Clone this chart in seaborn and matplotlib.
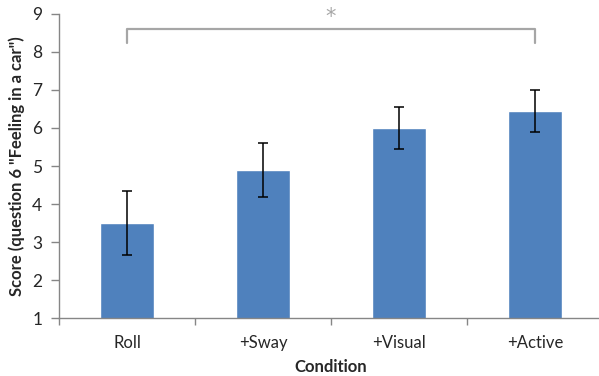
import numpy as np
import matplotlib
matplotlib.use("Agg")
from matplotlib import pyplot as plt
import seaborn as sns

# --- DATA ---
conditions = ["Roll", "+Sway", "+Visual", "+Active"]
scores = [3.5, 4.9, 6.0, 6.45]
errors = [0.83, 0.71, 0.56, 0.55]
y_ticks = [1, 2, 3, 4, 5, 6, 7, 8, 9]

# significance bracket: Roll vs +Active
sig_pair = [0, 3]
sig_low, sig_high = 8.23, 8.6
sig_mark = "*"

# --- PLOT ---
sns.set_style("white")
plt.rcParams["font.family"] = ["Lato", "DejaVu Sans"]

fig = plt.figure(figsize=(5.99, 3.76), dpi=100)
# x axis runs a little past the right edge, as in the original
ax = fig.add_axes([0.0985, 0.154, 0.908, 0.809])

sns.barplot(x=conditions, y=scores, color="#4F81BD", saturation=1, width=0.4,
            errorbar=None, ax=ax)
ax.errorbar(np.arange(len(conditions)), scores, yerr=errors, fmt="none",
            ecolor="black", elinewidth=1.1, capsize=3.5, capthick=1.1)

# bracket + asterisk
gray = "#A6A6A6"
ax.plot([sig_pair[0], sig_pair[0], sig_pair[1], sig_pair[1]],
        [sig_low, sig_high, sig_high, sig_low], color=gray, lw=1.6,
        clip_on=False)
ax.text(np.mean(sig_pair), 8.92, sig_mark, ha="center", va="center",
        color=gray, fontsize=15, fontfamily="DejaVu Sans")

ax.set_ylim(1, 9)
ax.set_xlim(-0.5, len(conditions) - 0.5)
ax.set_yticks(y_ticks)
ax.set_xticks(np.arange(-0.5, len(conditions)), minor=True)

ax.tick_params(axis="y", which="major", direction="out", length=6, width=1,
               color="#868686", labelsize=12.5, left=True, pad=6)
ax.tick_params(axis="x", which="major", length=0, labelsize=12, pad=12)
ax.tick_params(axis="x", which="minor", direction="out", length=5, width=1,
               color="#868686", bottom=True)

for side in ["top", "right"]:
    ax.spines[side].set_visible(False)
for side in ["left", "bottom"]:
    ax.spines[side].set_color("#868686")
    ax.spines[side].set_linewidth(1)

ax.set_xlabel("Condition", fontweight="bold", fontsize=12, labelpad=6)
ax.set_ylabel('Score (question 6 "Feeling in a car")', fontweight="bold",
              fontsize=12, labelpad=5)

fig.savefig("out.png", dpi=100)
